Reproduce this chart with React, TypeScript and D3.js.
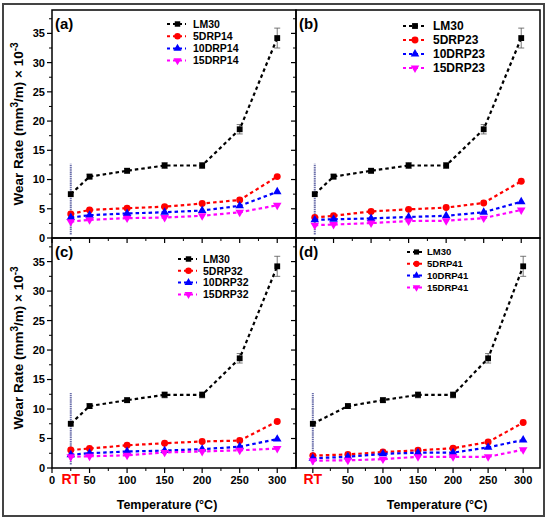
import * as d3 from 'd3';

// LM30 reference alloy (same in every panel)
const lm30 = [7.5, 10.5, 11.5, 12.4, 12.4, 18.6, 34.2];
const lm30Err = [0, 0.4, 0.4, 0.5, 0.5, 0.8, 1.7];
const rtBar = [0.6, 12.7];

const temps = [50, 100, 150, 200, 250, 300];

const drp14 = [
  [4.1, 4.8, 5.1, 5.35, 5.9, 6.5, 10.5],
  [3.5, 3.9, 4.2, 4.4, 4.7, 5.5, 7.9],
  [2.8, 3.1, 3.4, 3.5, 3.8, 4.4, 5.6],
];
const drp23 = [
  [3.5, 3.8, 4.55, 4.9, 5.2, 6.0, 9.7],
  [3.1, 3.2, 3.35, 3.6, 3.8, 4.4, 6.2],
  [2.2, 2.3, 2.55, 2.9, 2.95, 3.4, 4.8],
];
const drp32 = [
  [3.05, 3.3, 3.85, 4.2, 4.5, 4.65, 7.9],
  [2.25, 2.5, 2.8, 2.95, 3.2, 3.6, 4.9],
  [1.9, 2.0, 2.15, 2.65, 2.8, 3.0, 3.3],
];
const drp41 = [
  [2.1, 2.3, 2.7, 3.0, 3.35, 4.4, 7.7],
  [1.65, 1.9, 2.4, 2.6, 2.6, 3.5, 4.75],
  [1.25, 1.3, 1.5, 1.9, 1.9, 1.9, 3.1],
];

const prefixes = ['5DRP', '10DRP', '15DRP'];
const colors = ['#000000', '#ff0000', '#0000ff', '#ff00ff'];
const yMajor = [0, 5, 10, 15, 20, 25, 30, 35];

const FONT = 'Arial, "Liberation Sans", sans-serif';

const panels = [
  { tag: '(a)', code: '14', data: drp14, rt: 25, x0: 52, x1: 296, y0: 10, y1: 238, xd: [0, 325],
    leg: { x: 167, y: 24, dy: 12.2, fs: 10.5, len: 19, tx: 193 }, yLabels: true, xLabels: false },
  { tag: '(b)', code: '23', data: drp23, rt: 25, x0: 296, x1: 540, y0: 10, y1: 238, xd: [0, 325],
    leg: { x: 403, y: 26, dy: 14, fs: 12, len: 22, tx: 433 }, yLabels: false, xLabels: false },
  { tag: '(c)', code: '32', data: drp32, rt: 25, x0: 52, x1: 296, y0: 238, y1: 468, xd: [0, 325],
    leg: { x: 178, y: 259, dy: 11.8, fs: 10.5, len: 19, tx: 203 }, yLabels: true, xLabels: true },
  { tag: '(d)', code: '41', data: drp41, rt: 0, x0: 296, x1: 540, y0: 238, y1: 468, xd: [-24, 324],
    leg: { x: 407, y: 252, dy: 11.8, fs: 9.5, len: 17, tx: 427 }, yLabels: false, xLabels: true },
];

const symbolPath = (i: number, s: number) => {
  const types = [d3.symbolSquare, d3.symbolCircle, d3.symbolTriangle, d3.symbolTriangle];
  return d3.symbol().type(types[i]).size(s)()!;
};

const Marker = ({ i, x, y, s }: { i: number; x: number; y: number; s: number }) => (
  <path
    d={symbolPath(i, s)}
    fill={colors[i]}
    transform={`translate(${x},${y})${i === 3 ? ' rotate(180)' : ''}`}
  />
);

const Panel = ({ p }: { p: typeof panels[number] }) => {
  const x = d3.scaleLinear().domain(p.xd).range([p.x0, p.x1]);
  const y = d3.scaleLinear().domain([0, 39]).range([p.y1, p.y0]);
  const xs = [p.rt, ...temps];
  const series = [lm30, ...p.data];
  const names = ['LM30', ...prefixes.map(s => s + p.code)];
  const line = d3.line<number>().x((_, k) => x(xs[k])).y(d => y(d));
  const sizes = [34, 38, 32, 32];
  const xMinor = d3.range(0, 301, 25).filter(v => v % 50 !== 0);
  const yMinor = d3.range(2.5, 38, 5);

  return (
    <g>
      <rect x={p.x0} y={p.y0} width={p.x1 - p.x0} height={p.y1 - p.y0} fill="none" stroke="#000" strokeWidth={1.5} />
      {/* y ticks */}
      {yMajor.map(v => (
        <line key={'ym' + v} x1={p.x0 - 5} x2={p.x0} y1={y(v)} y2={y(v)} stroke="#000" strokeWidth={1.2} />
      ))}
      {yMinor.map(v => (
        <line key={'yn' + v} x1={p.x0 - 3} x2={p.x0} y1={y(v)} y2={y(v)} stroke="#000" strokeWidth={1} />
      ))}
      {p.yLabels && yMajor.map(v => (
        <text key={'yl' + v} x={p.x0 - 7} y={y(v)} dy="0.36em" textAnchor="end" fontSize={11} fontWeight="bold" fontFamily={FONT}>{v}</text>
      ))}
      {/* x ticks */}
      {[0, ...temps].map(v => (
        <line key={'xm' + v} x1={x(v)} x2={x(v)} y1={p.y1} y2={p.y1 + 5} stroke="#000" strokeWidth={1.2} />
      ))}
      {xMinor.map(v => (
        <line key={'xn' + v} x1={x(v)} x2={x(v)} y1={p.y1} y2={p.y1 + 3} stroke="#000" strokeWidth={1} />
      ))}
      {p.xLabels && (p.rt === 0 ? temps : [0, ...temps]).map(v => (
        <text key={'xl' + v} x={x(v)} y={p.y1 + 16} textAnchor="middle" fontSize={11} fontWeight="bold" fontFamily={FONT}>{v}</text>
      ))}
      {p.xLabels && (
        <text x={x(p.rt)} y={p.y1 + 15.5} textAnchor="middle" fontSize={14} fontWeight="bold" fill="#ff0000" fontFamily={FONT}>RT</text>
      )}
      <text x={p.x0 + 3} y={p.y0 + 19} fontSize={15} fontWeight="bold" fontFamily={FONT}>{p.tag}</text>
      {/* RT scatter bar */}
      <line x1={x(p.rt)} x2={x(p.rt)} y1={y(rtBar[0])} y2={y(rtBar[1])} stroke="#6a6eaa" strokeWidth={2} strokeDasharray="1.5,0.7" />
      {/* LM30 error bars */}
      {lm30.map((v, k) => lm30Err[k] > 0 && (
        <g key={'e' + k} stroke="#555" strokeWidth={0.8}>
          <line x1={x(xs[k])} x2={x(xs[k])} y1={y(v - lm30Err[k])} y2={y(v + lm30Err[k])} />
          <line x1={x(xs[k]) - 3} x2={x(xs[k]) + 3} y1={y(v - lm30Err[k])} y2={y(v - lm30Err[k])} />
          <line x1={x(xs[k]) - 3} x2={x(xs[k]) + 3} y1={y(v + lm30Err[k])} y2={y(v + lm30Err[k])} />
        </g>
      ))}
      {series.map((s, i) => (
        <g key={'s' + i}>
          <path d={line(s)!} fill="none" stroke={colors[i]} strokeWidth={2.2} strokeDasharray="3.5,3" />
          {s.map((v, k) => <Marker key={k} i={i} x={x(xs[k])} y={y(v)} s={sizes[i]} />)}
        </g>
      ))}
      {/* legend */}
      {names.map((n, i) => {
        const ly = p.leg.y + i * p.leg.dy;
        return (
          <g key={'lg' + i}>
            <line x1={p.leg.x} x2={p.leg.x + p.leg.len} y1={ly} y2={ly} stroke={colors[i]} strokeWidth={2} strokeDasharray="3,3" />
            <Marker i={i} x={p.leg.x + p.leg.len / 2 + 1} y={ly} s={sizes[i] * (p.leg.fs / 12)} />
            <text x={p.leg.tx} y={ly} dy="0.36em" fontSize={p.leg.fs} fontWeight="bold" fontFamily={FONT}>{n}</text>
          </g>
        );
      })}
    </g>
  );
};

const YLabel = ({ cy }: { cy: number }) => (
  <text transform={`translate(23,${cy}) rotate(-90)`} textAnchor="middle" fontSize={13.5} fontWeight="bold" fontFamily={FONT}>
    Wear Rate (mm<tspan dy={-5} fontSize={10}>3</tspan><tspan dy={5}>/m) × 10</tspan><tspan dy={-5} fontSize={10}>-3</tspan>
  </text>
);

export default function App() {
  return (
    <svg width={550} height={523} style={{ position: 'absolute', left: 0, top: 0, background: '#fff' }}>
      <rect x={3} y={4} width={541} height={512} fill="none" stroke="#444" strokeWidth={2} />
      {panels.map(p => <Panel key={p.tag} p={p} />)}
      <YLabel cy={124} />
      <YLabel cy={348} />
      <text x={167} y={509} textAnchor="middle" fontSize={12.5} fontWeight="bold" fontFamily={FONT}>Temperature (°C)</text>
      <text x={437} y={509} textAnchor="middle" fontSize={12.5} fontWeight="bold" fontFamily={FONT}>Temperature (°C)</text>
    </svg>
  );
}
